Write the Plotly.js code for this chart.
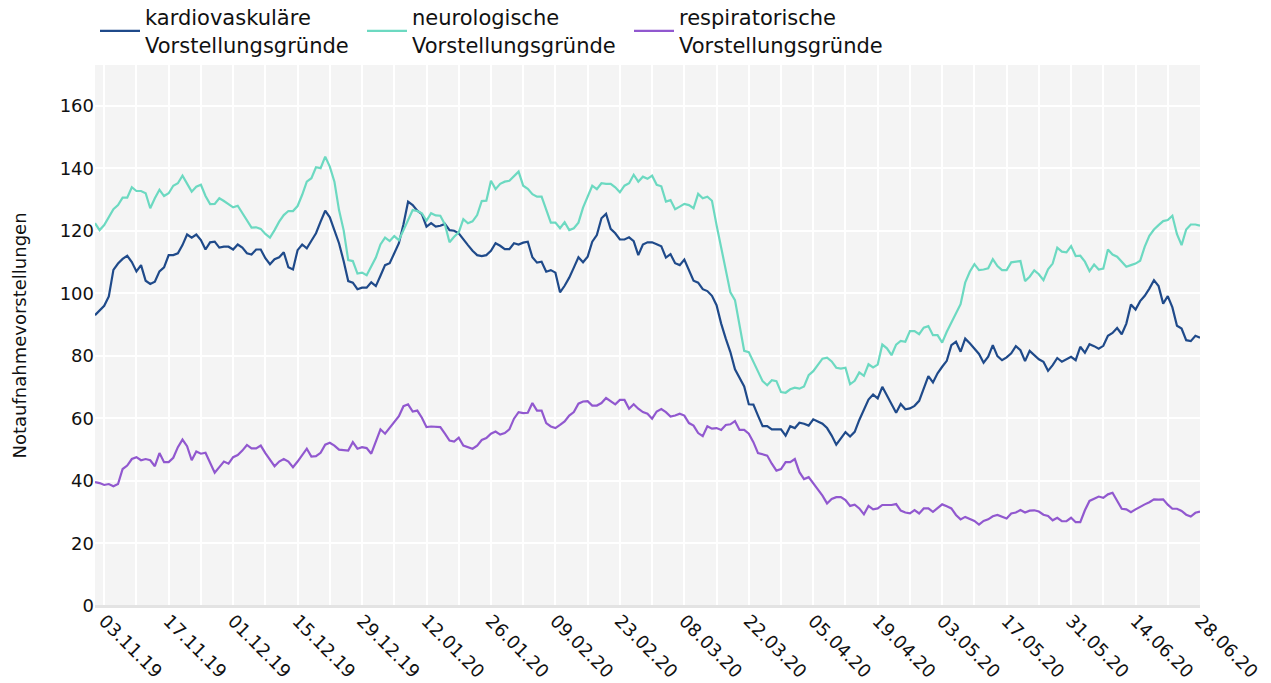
<!DOCTYPE html>
<html>
<head>
<meta charset="utf-8">
<script src="https://cdn.plot.ly/plotly-3.0.1.min.js"></script>
<style>
  html, body { margin: 0; padding: 0; background: #ffffff; }
  #chart { width: 1271px; height: 683px; }
</style>
</head>
<body>
<div id="chart"></div>
<script>
// First day of the daily series (one value per day, 01.11.2019 – 28.06.2020)
const startDate = '2019-11-01';

const seriesNames = [
  'kardiovaskuläre<br>Vorstellungsgründe',
  'neurologische<br>Vorstellungsgründe',
  'respiratorische<br>Vorstellungsgründe'
];

const kardio = [
  93, 94.5, 96, 99, 107.5, 109.5, 111, 112, 110, 107,
  109, 104, 103, 103.7, 107, 108.3, 112.2, 112.2, 112.8, 115.4,
  118.8, 117.8, 118.8, 117, 114, 116.3, 116.5, 114.6, 114.9, 114.9,
  114, 115.6, 114.6, 112.8, 112.4, 114, 114, 111.2, 109.3, 110.9,
  111.5, 113.1, 108.3, 107.6, 113.8, 115.6, 114.4, 116.8, 119.2, 122.9,
  126.4, 124.3, 120.2, 116, 110.3, 103.9, 103.4, 101.3, 101.8, 101.8,
  103.5, 102.3, 105.6, 109, 109.6, 112.8, 116, 122.1, 129.3, 128.2,
  126.4, 125.3, 121.3, 122.4, 121.3, 121.6, 122.2, 120.2, 120, 119.2,
  117.2, 115.4, 113.6, 112.2, 111.9, 112.2, 113.6, 116, 115.2, 114.1,
  114.1, 116, 115.6, 116.2, 116.5, 111.5, 109.8, 110.1, 106.9, 107.4,
  106.6, 100.3, 102.4, 105, 108.2, 111.5, 109.9, 111.7, 116.5, 118.6,
  124, 125.4, 120.6, 119.2, 117.2, 117.2, 117.9, 116.7, 112.2, 115.6,
  116.3, 116.3, 115.7, 115, 111.4, 112.5, 109.6, 109, 110.8, 107.4,
  104, 103.4, 101.3, 100.7, 99.2, 96.2, 90.3, 85.5, 81.2, 75.7,
  72.9, 70.2, 64.5, 64.4, 60.9, 57.5, 57.5, 56.5, 56.5, 56.5,
  54.5, 57.5, 56.9, 58.6, 58.3, 57.7, 59.7, 59.1, 58.3, 56.9,
  54.5, 51.6, 53.8, 55.6, 54.2, 55.7, 59.5, 62.6, 66, 67.6,
  66.4, 70.1, 67.4, 64.8, 61.8, 64.6, 62.9, 63.2, 64, 65.6,
  69.6, 73.5, 71.5, 74.4, 76.5, 78.4, 83.4, 84.5, 81.3, 85.5,
  84, 82.4, 80.6, 77.8, 79.7, 83.4, 79.9, 78.6, 79.5, 80.8,
  83.1, 81.8, 78.3, 81.6, 80.2, 78.9, 78.1, 75.2, 77, 79.3,
  78.1, 78.8, 79.7, 78.6, 82.9, 81, 83.7, 83.1, 82.3, 83.2,
  86.4, 87.3, 88.9, 86.9, 90.3, 96.4, 94.8, 97.5, 99.2, 101.5,
  104.2, 102.3, 96.7, 99.1, 95.5, 89.6, 88.7, 85, 84.7, 86.4,
  85.8
];

const neuro = [
  122.4, 120.2, 121.8, 124.3, 126.9, 128.2, 130.6, 130.6, 133.9, 132.7,
  132.7, 132, 127.2, 130.4, 133.1, 131.1, 132, 134.4, 135.2, 137.6,
  135.2, 132.5, 134.1, 134.7, 131.1, 128.5, 128.6, 130.4, 129.5, 128.6,
  127.5, 128, 125.6, 123.4, 121, 121.1, 120.6, 119, 117.8, 120.2,
  122.9, 125, 126.3, 126.3, 127.9, 131.5, 135.7, 136.8, 140.3, 140,
  143.7, 140.5, 135.7, 126.6, 120.2, 110.6, 110.3, 106.3, 106.6, 105.8,
  108.7, 111.4, 115.6, 117.8, 116.7, 118.3, 117, 120.2, 123.2, 126.6,
  126.3, 125.6, 123.2, 125.6, 124.9, 124.8, 122, 116.3, 118.1, 119.5,
  123.7, 122.4, 123, 125, 129.5, 129.6, 136, 133.3, 135, 135.7,
  136, 137.6, 138.9, 134.4, 133.4, 131.7, 130.9, 130.9, 126.9, 122.6,
  122.6, 120.8, 122.7, 120.2, 120.8, 122.6, 127.4, 130.9, 134.4, 133.3,
  135.2, 135, 135, 133.9, 132.3, 134.4, 135.2, 137.9, 135.7, 137.3,
  136.6, 137.6, 134.7, 134.2, 129.3, 129.8, 126.9, 127.7, 128.6, 128.2,
  127.2, 131.8, 130.4, 130.9, 129.6, 121.8, 114.4, 106.9, 100.3, 97.8,
  89.3, 81.6, 81.2, 78, 75.1, 71.9, 70.6, 72.2, 71.9, 68.4,
  68.2, 69.3, 69.8, 69.5, 70.2, 73.8, 75.1, 77.2, 79.1, 79.4,
  78.2, 76.2, 75.9, 76.2, 70.9, 72, 74.7, 73.6, 77.3, 76.3,
  77.2, 83.6, 82.4, 80.2, 83.6, 84.8, 84.5, 87.9, 87.9, 86.9,
  89, 89.5, 86.6, 86.6, 84.2, 87.7, 90.7, 93.6, 96.5, 103.4,
  106.9, 109.3, 107.4, 107.6, 108, 110.9, 108.7, 107.4, 107.4, 109.9,
  110.1, 110.3, 103.9, 105.3, 107.3, 106.1, 104.2, 107.7, 109.5, 114.6,
  113.3, 113.1, 115.1, 111.9, 112, 110.1, 107.1, 109.2, 107.6, 107.9,
  114, 112.4, 111.7, 110.1, 108.5, 109, 109.5, 110.4, 114.9, 118.4,
  120.4, 121.8, 123.1, 123.4, 124.8, 118.9, 115.4, 120.4, 122, 122,
  121.6
];

const resp = [
  39.6, 39.3, 38.7, 39, 38.3, 39, 43.8, 44.9, 47, 47.6,
  46.6, 47, 46.6, 44.7, 48.9, 46, 46, 47.4, 50.8, 53.2,
  51.1, 46.6, 49.4, 48.7, 49, 46, 42.6, 44.4, 46.2, 45.5,
  47.6, 48.3, 49.7, 51.5, 50.4, 50.4, 51.3, 48.9, 46.8, 44.7,
  46.2, 47, 46.2, 44.4, 46.2, 48.1, 50.3, 47.8, 47.9, 49,
  51.6, 52.2, 51.3, 50, 49.9, 49.7, 52.4, 50.3, 50.8, 50.5,
  48.7, 52.9, 56.5, 55.1, 56.9, 58.8, 60.7, 63.9, 64.5, 62.2,
  62.5, 60.2, 57.2, 57.4, 57.2, 57.2, 55.1, 52.9, 52.6, 53.8,
  51.3, 50.8, 50.3, 51.3, 53.1, 53.7, 55.1, 55.8, 54.8, 55.3,
  56.5, 59.9, 62, 61.7, 61.8, 64.9, 62.5, 62.5, 58.5, 57.4,
  56.9, 57.9, 59, 60.9, 62, 64.7, 65.4, 65.5, 64.1, 64.1,
  64.9, 66.5, 65.5, 64.5, 65.9, 65.9, 63.1, 64.5, 63.1, 62,
  61.5, 59.9, 62.2, 63, 62, 60.6, 60.9, 61.5, 60.9, 58.5,
  57.7, 55.3, 54.3, 57.5, 56.7, 56.9, 56.3, 57.9, 58.1, 59.1,
  56.3, 56.3, 55.1, 52.4, 48.9, 48.4, 48.1, 45.5, 43.3, 43.8,
  46, 46, 47, 42.8, 40.6, 41.2, 39.3, 37.2, 35.3, 32.8,
  34.2, 34.8, 34.8, 33.9, 32, 32.4, 31.2, 29.3, 32, 30.9,
  31.2, 32.3, 32.3, 32.3, 32.6, 30.5, 29.9, 29.6, 30.7, 29.6,
  31.2, 31.2, 30.1, 31.2, 32.5, 31.9, 31.2, 29.1, 27.7, 28.5,
  27.8, 27.2, 26, 27.2, 27.7, 28.7, 29.1, 28.5, 28, 29.6,
  29.9, 30.7, 29.9, 30.5, 30.6, 30.2, 29.2, 28.8, 27.4, 28.2,
  27.1, 27.1, 28.2, 26.8, 26.8, 30.6, 33.6, 34.3, 35, 34.6,
  35.7, 36.2, 33.8, 31.1, 30.9, 30, 30.9, 31.8, 32.5, 33.2,
  34.1, 34, 34.1, 32.4, 31.1, 31.1, 30.4, 29.2, 28.6, 29.8,
  30.2
];

const seriesColors = ['#1f4a8a', '#6cd9c1', '#9158cf'];
const yTitle = 'Notaufnahmevorstellungen';

// daily date axis built from the start date
function buildDates(start, n) {
  const out = [];
  const d0 = new Date(start + 'T00:00:00Z');
  for (let i = 0; i < n; i++) {
    const d = new Date(d0.getTime() + i * 86400000);
    out.push(d.toISOString().slice(0, 10));
  }
  return out;
}
const dates = buildDates(startDate, kardio.length);

const allSeries = [kardio, neuro, resp];
const traces = allSeries.map((vals, i) => ({
  x: dates,
  y: vals,
  type: 'scatter',
  mode: 'lines',
  name: seriesNames[i],
  line: { color: seriesColors[i], width: 2.2 }
}));

const DAY = 86400000;
const layout = {
  width: 1271,
  height: 683,
  font: { family: 'DejaVu Sans, Verdana, sans-serif', size: 18, color: '#111' },
  paper_bgcolor: '#ffffff',
  plot_bgcolor: '#f4f4f4',
  margin: { l: 95, r: 71, t: 65, b: 77, pad: 0, autoexpand: false },
  showlegend: true,
  legend: {
    orientation: 'h',
    x: 0, xanchor: 'left',
    y: 1.0, yanchor: 'bottom',
    itemwidth: 40,
    entrywidth: 212,
    entrywidthmode: 'pixels',
    font: { size: 21, color: '#111' },
    bgcolor: 'rgba(0,0,0,0)'
  },
  xaxis: {
    type: 'date',
    range: [dates[0], dates[dates.length - 1]],
    tick0: '2019-11-03',
    dtick: 14 * DAY,
    tickformat: '%d.%m.%y',
    tickangle: 45,
    showgrid: true,
    gridcolor: '#ffffff',
    gridwidth: 2,
    minor: { tick0: '2019-11-03', dtick: 7 * DAY, showgrid: true, gridcolor: '#ffffff', gridwidth: 2 },
    zeroline: false,
    showline: false,
    ticks: '',
    tickfont: { size: 18 }
  },
  yaxis: {
    range: [0, 173],
    dtick: 20,
    showgrid: true,
    gridcolor: '#ffffff',
    gridwidth: 2,
    zeroline: true,
    zerolinecolor: '#e3e3e3',
    zerolinewidth: 3,
    showline: false,
    ticks: '',
    tickfont: { size: 18 },
    title: { text: yTitle, font: { size: 18 }, standoff: 28 }
  }
};

Plotly.newPlot('chart', traces, layout, { displayModeBar: false, staticPlot: true });
</script>
</body>
</html>
